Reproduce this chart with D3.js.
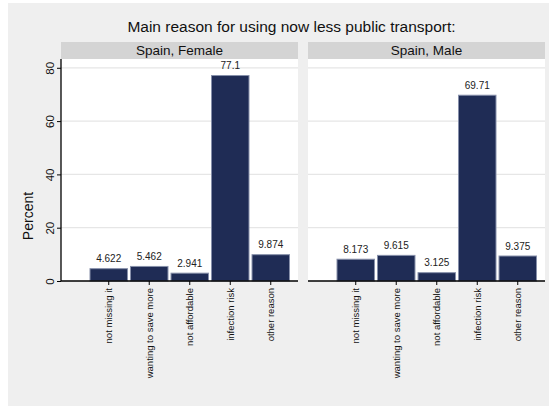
<!DOCTYPE html>
<html><head><meta charset="utf-8">
<script src="https://cdn.jsdelivr.net/npm/d3@7"></script>
<style>body{margin:0;background:#fff}svg text{font-family:"Liberation Sans",Arial,Helvetica,sans-serif}</style>
</head><body><svg id="c" width="558" height="406"></svg>
<script>
const categories = ["not missing it","wanting to save more","not affordable","infection risk","other reason"];
const panels = ["Spain, Female","Spain, Male"];
const femaleValues = [4.622,5.462,2.941,77.1,9.874];
const maleValues = [8.173,9.615,3.125,69.71,9.375];
const yTicks = [0,20,40,60,80];
const title = "Main reason for using now less public transport:";
const yTitle = "Percent";
const seriesValues = [femaleValues, maleValues];

const svg = d3.select("#c");
svg.append("rect").attr("x",8).attr("y",3).attr("width",541).attr("height",403).attr("fill","#efefef");
svg.append("text").attr("x",291.5).attr("y",32).attr("text-anchor","middle").attr("font-size",15.5).attr("fill","#111").text(title);

const plotTop = 59, plotBottom = 281;
const y = d3.scaleLinear().domain([0,83.3]).range([plotBottom,plotTop]);
const panelX = [61,308], panelW = 237;

panels.forEach((p,i)=>{
  const x0 = panelX[i];
  const g = svg.append("g");
  g.append("rect").attr("x",x0).attr("y",42).attr("width",panelW).attr("height",17).attr("fill","#d4d4d4");
  g.append("text").attr("x",x0+panelW/2).attr("y",54.5).attr("text-anchor","middle").attr("font-size",13.5).attr("fill","#111").text(p);
  g.append("rect").attr("x",x0).attr("y",plotTop).attr("width",panelW).attr("height",plotBottom-plotTop).attr("fill","#fff");
  // gridlines
  g.selectAll(".grid").data(yTicks.filter(d=>d>0)).join("line")
    .attr("x1",x0).attr("x2",x0+panelW).attr("y1",d=>y(d)).attr("y2",d=>y(d))
    .attr("stroke","#e6e6e6").attr("stroke-width",1.2);
  const x = d3.scaleBand().domain(categories).range([x0+28.5,x0+28.5+200.5]).paddingInner(0.05).paddingOuter(0);
  const vals = seriesValues[i];
  g.selectAll(".bar").data(categories).join("rect")
    .attr("x",d=>x(d)+0.5).attr("width",x.bandwidth()-1)
    .attr("y",(d,j)=>y(vals[j])).attr("height",(d,j)=>y(0)-y(vals[j]))
    .attr("fill","#1f2c55").attr("stroke","#8790aa").attr("stroke-width",1);
  g.selectAll(".lbl").data(categories).join("text")
    .attr("x",d=>x(d)+x.bandwidth()/2).attr("y",(d,j)=>y(vals[j])-6.5)
    .attr("text-anchor","middle").attr("font-size",10).attr("fill","#222")
    .text((d,j)=>String(vals[j]));
  // x axis
  const xa = g.append("g").attr("transform",`translate(0,${plotBottom})`)
    .call(d3.axisBottom(x).tickSizeInner(4).tickSizeOuter(0));
  xa.select(".domain").remove();
  xa.append("line").attr("x1",x0).attr("x2",x0+panelW).attr("stroke","#000").attr("stroke-width",1.3);
  xa.selectAll(".tick line").attr("stroke","#000");
  xa.selectAll(".tick text").attr("transform","rotate(-90)").attr("x",-7).attr("y",0).attr("dy","0.35em")
    .attr("text-anchor","end").attr("font-size",9.5).attr("fill","#111");
  if(i===0){
    const ya = g.append("g").attr("transform",`translate(${x0},0)`)
      .call(d3.axisLeft(y).tickValues(yTicks).tickSizeInner(4).tickSizeOuter(0).tickFormat(d3.format("d")));
    ya.select(".domain").attr("stroke","#000").attr("stroke-width",1.3).attr("d",`M0,${plotTop}V${plotBottom}`);
    ya.selectAll(".tick line").attr("stroke","#000");
    ya.selectAll(".tick text").attr("transform","rotate(-90)").attr("x",0).attr("y",-7.5).attr("dy",0)
      .attr("text-anchor","middle").attr("font-size",11.5).attr("fill","#111");
  }
});
svg.append("text").attr("transform","translate(33,216) rotate(-90)").attr("text-anchor","middle")
  .attr("font-size",14).attr("fill","#111").text(yTitle);
</script></body></html>
